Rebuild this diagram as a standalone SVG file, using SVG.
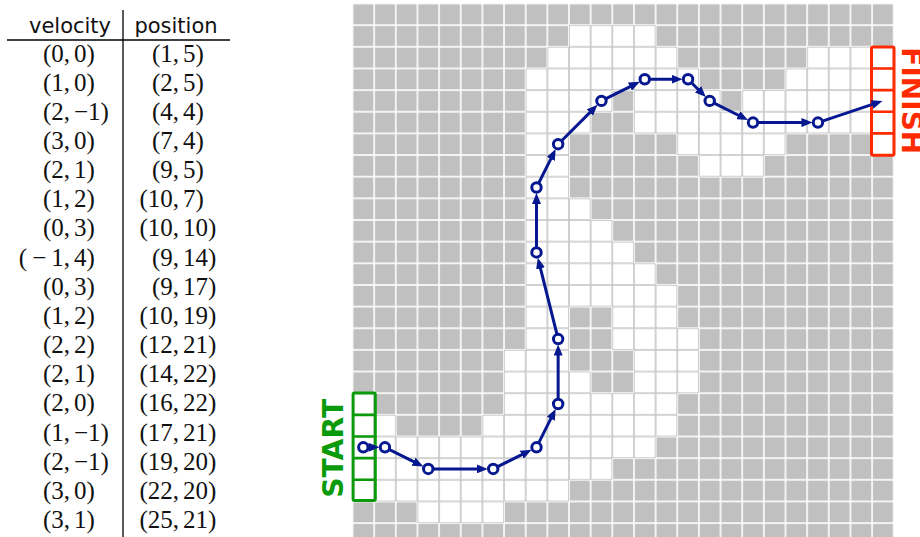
<svg xmlns="http://www.w3.org/2000/svg" width="920" height="537" viewBox="0 0 920 537">
<style>
.hd{font-family:"DejaVu Sans",sans-serif;font-size:21px;fill:#111;text-anchor:middle}
.m{font-family:"Liberation Serif","Times New Roman",serif;font-size:25px;fill:#111}
.rule{stroke:#000;stroke-width:1.3;fill:none}
.w{fill:url(#wg)}
.seg{stroke:#06188f;stroke-width:3;fill:none;marker-end:url(#ah)}
.pt{fill:#fff;stroke:#06188f;stroke-width:3}
.lbl{font-family:"DejaVu Sans","Liberation Sans",sans-serif;font-weight:bold;font-size:28px;text-anchor:middle}
</style>
<defs>
<pattern id="gg" patternUnits="userSpaceOnUse" x="352.5" y="3.5" width="21.65" height="21.65"><rect width="21.65" height="21.65" fill="#c0c0c0" stroke="#fff" stroke-width="1.6"/></pattern>
<pattern id="wg" patternUnits="userSpaceOnUse" x="352.5" y="3.5" width="21.65" height="21.65"><rect width="21.65" height="21.65" fill="#fff" stroke="#c2c2c2" stroke-width="1.5"/></pattern>
<marker id="ah" markerUnits="userSpaceOnUse" viewBox="0 0 11 9" markerWidth="11" markerHeight="9" refX="3.5" refY="4.5" orient="auto"><path d="M0,0 L11,4.5 L0,9 z" fill="#06188f"/></marker>
</defs>
<rect width="920" height="537" fill="#fff"/>
<g id="table">
<line class="rule" x1="7" y1="40" x2="230" y2="40"/>
<line class="rule" x1="123" y1="10" x2="123" y2="537"/>
<text class="hd" x="70" y="32.5">velocity</text>
<text class="hd" x="176" y="32.5">position</text>
<g class="m">
<text y="61.5"><tspan x="70" text-anchor="end">(0,</tspan><tspan x="74">0)</tspan></text>
<text y="90.66"><tspan x="70" text-anchor="end">(1,</tspan><tspan x="74">0)</tspan></text>
<text y="119.82"><tspan x="70" text-anchor="end">(2,</tspan><tspan x="74">−1)</tspan></text>
<text y="148.98"><tspan x="70" text-anchor="end">(3,</tspan><tspan x="74">0)</tspan></text>
<text y="178.14"><tspan x="70" text-anchor="end">(2,</tspan><tspan x="74">1)</tspan></text>
<text y="207.3"><tspan x="70" text-anchor="end">(1,</tspan><tspan x="74">2)</tspan></text>
<text y="236.46"><tspan x="70" text-anchor="end">(0,</tspan><tspan x="74">3)</tspan></text>
<text y="265.62"><tspan x="70" text-anchor="end">(<tspan dx="5">−</tspan><tspan dx="5">1,</tspan></tspan><tspan x="74">4)</tspan></text>
<text y="294.78"><tspan x="70" text-anchor="end">(0,</tspan><tspan x="74">3)</tspan></text>
<text y="323.94"><tspan x="70" text-anchor="end">(1,</tspan><tspan x="74">2)</tspan></text>
<text y="353.1"><tspan x="70" text-anchor="end">(2,</tspan><tspan x="74">2)</tspan></text>
<text y="382.26"><tspan x="70" text-anchor="end">(2,</tspan><tspan x="74">1)</tspan></text>
<text y="411.42"><tspan x="70" text-anchor="end">(2,</tspan><tspan x="74">0)</tspan></text>
<text y="440.58"><tspan x="70" text-anchor="end">(1,</tspan><tspan x="74">−1)</tspan></text>
<text y="469.74"><tspan x="70" text-anchor="end">(2,</tspan><tspan x="74">−1)</tspan></text>
<text y="498.9"><tspan x="70" text-anchor="end">(3,</tspan><tspan x="74">0)</tspan></text>
<text y="528.06"><tspan x="70" text-anchor="end">(3,</tspan><tspan x="74">1)</tspan></text>
<text y="61.5"><tspan x="179" text-anchor="end">(1,</tspan><tspan x="183">5)</tspan></text>
<text y="90.66"><tspan x="179" text-anchor="end">(2,</tspan><tspan x="183">5)</tspan></text>
<text y="119.82"><tspan x="179" text-anchor="end">(4,</tspan><tspan x="183">4)</tspan></text>
<text y="148.98"><tspan x="179" text-anchor="end">(7,</tspan><tspan x="183">4)</tspan></text>
<text y="178.14"><tspan x="179" text-anchor="end">(9,</tspan><tspan x="183">5)</tspan></text>
<text y="207.3"><tspan x="179" text-anchor="end">(10,</tspan><tspan x="183">7)</tspan></text>
<text y="236.46"><tspan x="179" text-anchor="end">(10,</tspan><tspan x="183">10)</tspan></text>
<text y="265.62"><tspan x="179" text-anchor="end">(9,</tspan><tspan x="183">14)</tspan></text>
<text y="294.78"><tspan x="179" text-anchor="end">(9,</tspan><tspan x="183">17)</tspan></text>
<text y="323.94"><tspan x="179" text-anchor="end">(10,</tspan><tspan x="183">19)</tspan></text>
<text y="353.1"><tspan x="179" text-anchor="end">(12,</tspan><tspan x="183">21)</tspan></text>
<text y="382.26"><tspan x="179" text-anchor="end">(14,</tspan><tspan x="183">22)</tspan></text>
<text y="411.42"><tspan x="179" text-anchor="end">(16,</tspan><tspan x="183">22)</tspan></text>
<text y="440.58"><tspan x="179" text-anchor="end">(17,</tspan><tspan x="183">21)</tspan></text>
<text y="469.74"><tspan x="179" text-anchor="end">(19,</tspan><tspan x="183">20)</tspan></text>
<text y="498.9"><tspan x="179" text-anchor="end">(22,</tspan><tspan x="183">20)</tspan></text>
<text y="528.06"><tspan x="179" text-anchor="end">(25,</tspan><tspan x="183">21)</tspan></text>
</g>
</g>
<g id="track">
<rect x="352.5" y="3.5" width="541.25" height="533.5" fill="url(#gg)"/>
<rect class="w" x="569" y="25.15" width="86.6" height="21.65"/>
<rect class="w" x="547.35" y="46.8" width="129.9" height="21.65"/>
<rect class="w" x="807.15" y="46.8" width="86.6" height="21.65"/>
<rect class="w" x="525.7" y="68.45" width="173.2" height="21.65"/>
<rect class="w" x="785.5" y="68.45" width="108.25" height="21.65"/>
<rect class="w" x="525.7" y="90.1" width="86.6" height="21.65"/>
<rect class="w" x="633.95" y="90.1" width="86.6" height="21.65"/>
<rect class="w" x="742.2" y="90.1" width="151.55" height="21.65"/>
<rect class="w" x="525.7" y="111.75" width="64.95" height="21.65"/>
<rect class="w" x="633.95" y="111.75" width="259.8" height="21.65"/>
<rect class="w" x="525.7" y="133.4" width="43.3" height="21.65"/>
<rect class="w" x="677.25" y="133.4" width="108.25" height="21.65"/>
<rect class="w" x="872.1" y="133.4" width="21.65" height="21.65"/>
<rect class="w" x="525.7" y="155.05" width="43.3" height="21.65"/>
<rect class="w" x="698.9" y="155.05" width="64.95" height="21.65"/>
<rect class="w" x="525.7" y="176.7" width="43.3" height="21.65"/>
<rect class="w" x="525.7" y="198.35" width="64.95" height="21.65"/>
<rect class="w" x="525.7" y="220" width="86.6" height="21.65"/>
<rect class="w" x="525.7" y="241.65" width="108.25" height="21.65"/>
<rect class="w" x="525.7" y="263.3" width="129.9" height="21.65"/>
<rect class="w" x="525.7" y="284.95" width="151.55" height="21.65"/>
<rect class="w" x="525.7" y="306.6" width="43.3" height="21.65"/>
<rect class="w" x="612.3" y="306.6" width="64.95" height="21.65"/>
<rect class="w" x="525.7" y="328.25" width="43.3" height="21.65"/>
<rect class="w" x="612.3" y="328.25" width="86.6" height="21.65"/>
<rect class="w" x="504.05" y="349.9" width="64.95" height="21.65"/>
<rect class="w" x="633.95" y="349.9" width="64.95" height="21.65"/>
<rect class="w" x="504.05" y="371.55" width="86.6" height="21.65"/>
<rect class="w" x="633.95" y="371.55" width="64.95" height="21.65"/>
<rect class="w" x="352.5" y="393.2" width="21.65" height="21.65"/>
<rect class="w" x="504.05" y="393.2" width="173.2" height="21.65"/>
<rect class="w" x="352.5" y="414.85" width="43.3" height="21.65"/>
<rect class="w" x="482.4" y="414.85" width="194.85" height="21.65"/>
<rect class="w" x="352.5" y="436.5" width="303.1" height="21.65"/>
<rect class="w" x="352.5" y="458.15" width="259.8" height="21.65"/>
<rect class="w" x="352.5" y="479.8" width="216.5" height="21.65"/>
<rect class="w" x="417.45" y="501.45" width="86.6" height="21.65"/>
</g>
<g id="start" fill="none" stroke="#0a9a0a" stroke-width="3">
<rect x="353.1" y="393.1" width="22.2" height="107.3" rx="1.5"/>
<path d="M353.1,414.85H375.3M353.1,436.5H375.3M353.1,458.15H375.3M353.1,479.8H375.3" stroke-width="2.6"/>
<text class="lbl" transform="translate(343.3,448.3) rotate(-90)" fill="#0a9a0a" stroke="none" textLength="99" lengthAdjust="spacingAndGlyphs">START</text>
</g>
<g id="finish" fill="none" stroke="#ff2a00" stroke-width="3">
<rect x="871.5" y="47" width="22.5" height="108.2" rx="1.5"/>
<path d="M871.5,68.45H894M871.5,90.1H894M871.5,111.75H894M871.5,133.4H894" stroke-width="2.6"/>
<text class="lbl" transform="translate(901.5,100.8) rotate(90)" fill="#ff2a00" stroke="none" textLength="107" lengthAdjust="spacingAndGlyphs">FINISH</text>
</g>
<g id="connectors">
<line class="seg" x1="363.3" y1="447.3" x2="371.95" y2="447.3"/>
<line class="seg" x1="384.95" y1="447.3" x2="416.62" y2="463.14"/>
<line class="seg" x1="428.25" y1="468.95" x2="480.2" y2="468.95"/>
<line class="seg" x1="493.2" y1="468.95" x2="524.87" y2="453.11"/>
<line class="seg" x1="536.5" y1="447.3" x2="552.34" y2="415.63"/>
<line class="seg" x1="558.15" y1="404" x2="558.15" y2="352.05"/>
<line class="seg" x1="558.15" y1="339.05" x2="539.65" y2="265.06"/>
<line class="seg" x1="536.5" y1="252.45" x2="536.5" y2="200.5"/>
<line class="seg" x1="536.5" y1="187.5" x2="552.34" y2="155.83"/>
<line class="seg" x1="558.15" y1="144.2" x2="592.26" y2="110.09"/>
<line class="seg" x1="601.45" y1="100.9" x2="633.12" y2="85.06"/>
<line class="seg" x1="644.75" y1="79.25" x2="675.05" y2="79.25"/>
<line class="seg" x1="688.05" y1="79.25" x2="700.51" y2="91.71"/>
<line class="seg" x1="709.7" y1="100.9" x2="741.37" y2="116.74"/>
<line class="seg" x1="753" y1="122.55" x2="804.95" y2="122.55"/>
<line class="seg" x1="817.95" y1="122.55" x2="875.31" y2="103.43"/>
</g>
<g id="waypoints">
<g id="p1"><circle class="pt" cx="363.3" cy="447.3" r="4.7"/></g>
<g id="p2"><circle class="pt" cx="384.95" cy="447.3" r="4.7"/></g>
<g id="p3"><circle class="pt" cx="428.25" cy="468.95" r="4.7"/></g>
<g id="p4"><circle class="pt" cx="493.2" cy="468.95" r="4.7"/></g>
<g id="p5"><circle class="pt" cx="536.5" cy="447.3" r="4.7"/></g>
<g id="p6"><circle class="pt" cx="558.15" cy="404" r="4.7"/></g>
<g id="p7"><circle class="pt" cx="558.15" cy="339.05" r="4.7"/></g>
<g id="p8"><circle class="pt" cx="536.5" cy="252.45" r="4.7"/></g>
<g id="p9"><circle class="pt" cx="536.5" cy="187.5" r="4.7"/></g>
<g id="p10"><circle class="pt" cx="558.15" cy="144.2" r="4.7"/></g>
<g id="p11"><circle class="pt" cx="601.45" cy="100.9" r="4.7"/></g>
<g id="p12"><circle class="pt" cx="644.75" cy="79.25" r="4.7"/></g>
<g id="p13"><circle class="pt" cx="688.05" cy="79.25" r="4.7"/></g>
<g id="p14"><circle class="pt" cx="709.7" cy="100.9" r="4.7"/></g>
<g id="p15"><circle class="pt" cx="753" cy="122.55" r="4.7"/></g>
<g id="p16"><circle class="pt" cx="817.95" cy="122.55" r="4.7"/></g>
</g>
</svg>
